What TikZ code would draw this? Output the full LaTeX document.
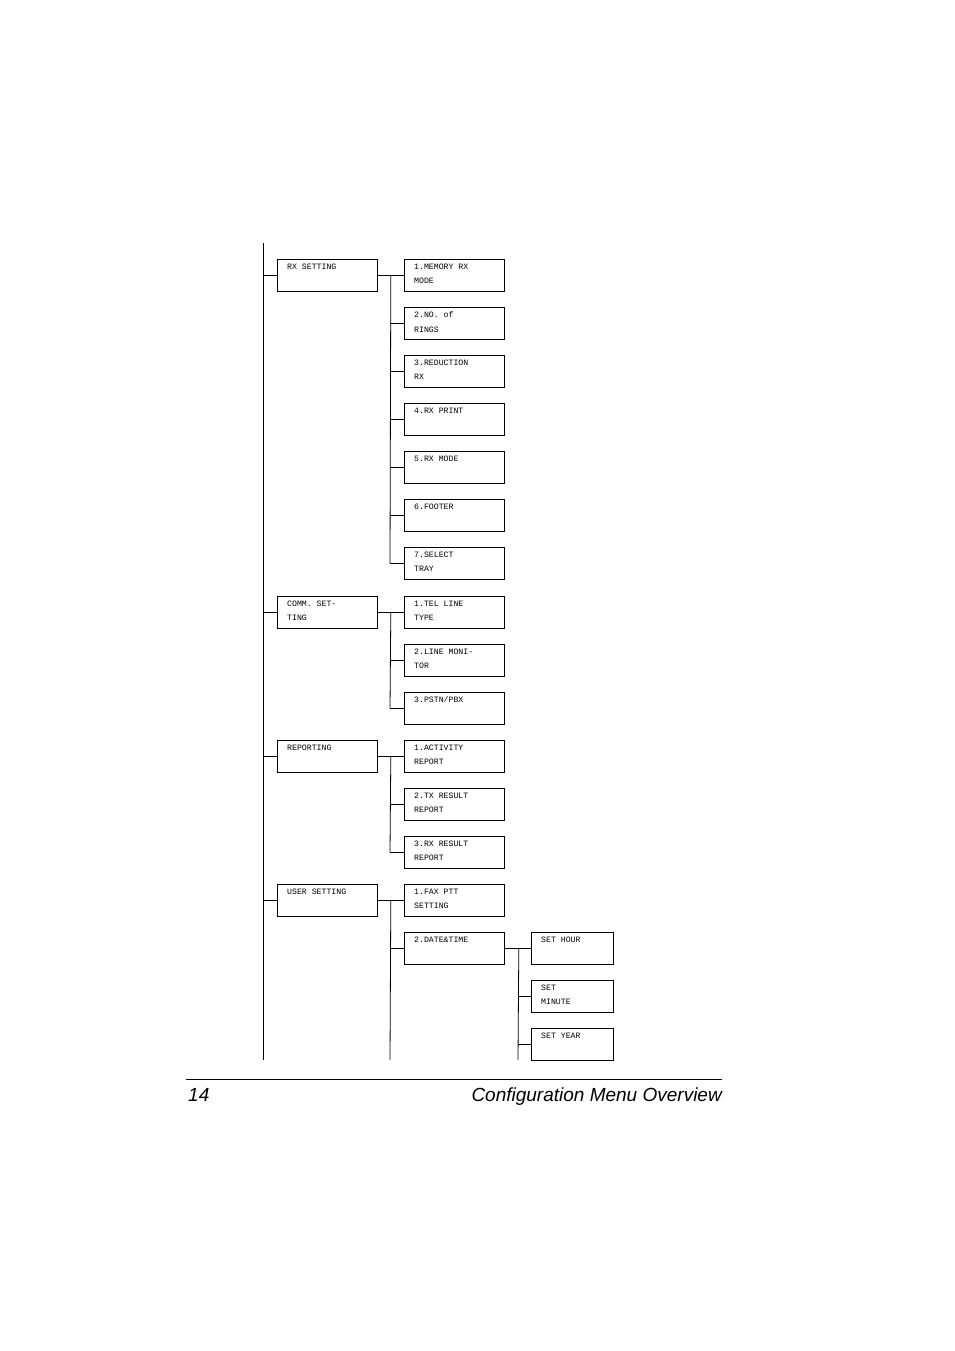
\documentclass[tikz,border=0pt]{standalone}
\usepackage{fontspec}
\setmainfont{Liberation Sans}
\newfontfamily\boxfont{Liberation Mono}
\begin{document}
\begin{tikzpicture}[x=1pt,y=-1pt,
  box/.style={draw,line width=0.8pt,anchor=north west,minimum height=32pt,inner sep=0pt},
  txt/.style={anchor=north west,inner sep=0pt,align=left,font=\boxfont\fontsize{8.2}{14.5}\selectfont},
  ln/.style={line width=0.8pt}]
\useasboundingbox (0,0) rectangle (954,1351);
\newcommand\bx[5]{\node[box,minimum width=#4] (#1) at (#2,#3) {}; \node[txt] (#1t) at ([xshift=10pt,yshift=-4.5pt]#1.north west) {#5};}
% level 1
\bx{rx}{277}{259}{100pt}{RX SETTING}
\bx{co}{277}{596}{100pt}{COMM. SET-\\TING}
\bx{re}{277}{740}{100pt}{REPORTING}
\bx{us}{277}{884}{100pt}{USER SETTING}
% level 2
\bx{a1}{404}{259}{100pt}{1.MEMORY RX\\MODE}
\bx{a2}{404}{307}{100pt}{2.NO. of\\RINGS}
\bx{a3}{404}{355}{100pt}{3.REDUCTION\\RX}
\bx{a4}{404}{403}{100pt}{4.RX PRINT}
\bx{a5}{404}{451}{100pt}{5.RX MODE}
\bx{a6}{404}{499}{100pt}{6.FOOTER}
\bx{a7}{404}{547}{100pt}{7.SELECT\\TRAY}
\bx{b1}{404}{596}{100pt}{1.TEL LINE\\TYPE}
\bx{b2}{404}{644}{100pt}{2.LINE MONI-\\TOR}
\bx{b3}{404}{692}{100pt}{3.PSTN/PBX}
\bx{c1}{404}{740}{100pt}{1.ACTIVITY\\REPORT}
\bx{c2}{404}{788}{100pt}{2.TX RESULT\\REPORT}
\bx{c3}{404}{836}{100pt}{3.RX RESULT\\REPORT}
\bx{d1}{404}{884}{100pt}{1.FAX PTT\\SETTING}
\bx{d2}{404}{932}{100pt}{2.DATE\&TIME}
% level 3
\bx{e1}{531}{932}{82pt}{SET HOUR}
\bx{e2}{531}{980}{82pt}{SET\\MINUTE}
\bx{e3}{531}{1028}{82pt}{SET YEAR}
% trunks
\coordinate (T1) at (263,243); \coordinate (T2) at (263,1060);
\draw[ln] (T1) -- (T2);
\foreach \n in {rx,co,re,us} \draw[ln] (\n.west) -- (\n.west -| T1);
\coordinate (U2) at (390,1060); \coordinate (V2) at (518,1060);
\draw[ln] (rx.east) -- (a1.west); \draw[ln] ([xshift=13pt]rx.east) -- ([xshift=-14pt]a7.west);
\draw[ln] (co.east) -- (b1.west); \draw[ln] ([xshift=13pt]co.east) -- ([xshift=-14pt]b3.west);
\draw[ln] (re.east) -- (c1.west); \draw[ln] ([xshift=13pt]re.east) -- ([xshift=-14pt]c3.west);
\draw[ln] (us.east) -- (d1.west); \draw[ln] ([xshift=13pt]us.east) -- (U2);
\draw[ln] (d2.east) -- (e1.west); \draw[ln] ([xshift=14pt]d2.east) -- (V2);
\foreach \n in {a2,a3,a4,a5,a6,a7,b2,b3,c2,c3,d2} \draw[ln] (\n.west) -- ++(-14,0);
\foreach \n in {e2,e3} \draw[ln] (\n.west) -- ++(-13,0);
% footer
\coordinate (F1) at (186,1079); \coordinate (F2) at (722,1079);
\draw[line width=0.8pt] (F1) -- (F2);
\node[anchor=base west,inner sep=0pt,font=\itshape\fontsize{19}{22}\selectfont] (pg) at (188,1101) {14};
\node[anchor=base east,inner sep=0pt,font=\itshape\fontsize{19}{22}\selectfont] (ttl) at (722,1101) {Configuration Menu Overview};
\end{tikzpicture}
\end{document}
